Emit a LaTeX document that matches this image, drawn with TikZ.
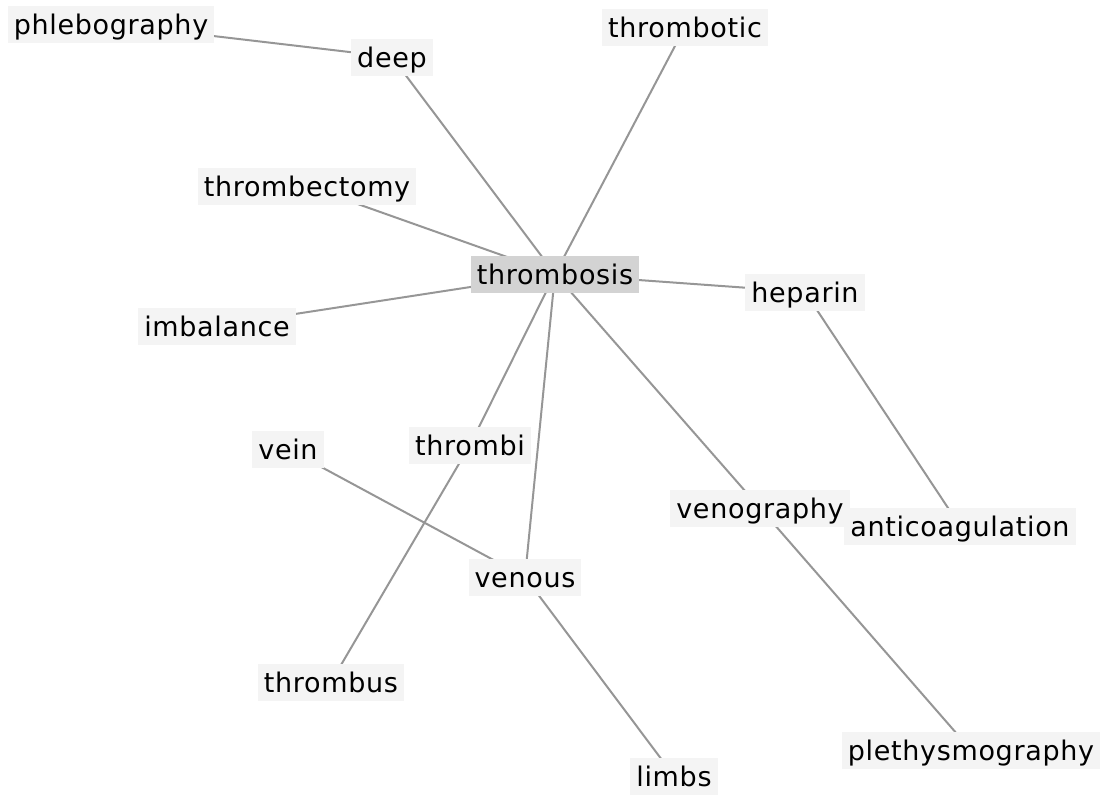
\documentclass[tikz,border=0pt]{standalone}
\usepackage{fontspec}
\setmainfont[LetterSpace=2.5]{DejaVu Sans}
\usetikzlibrary{backgrounds}
\definecolor{nodebg}{RGB}{244,244,244}
\definecolor{centerbg}{RGB}{211,211,211}
\definecolor{edgecol}{RGB}{150,150,150}
\begin{document}
\begin{tikzpicture}[x=1pt,y=-1pt,
  word/.style={fill=nodebg, inner xsep=6pt, inner ysep=0pt, minimum height=37pt,
    font=\fontsize{27}{30}\selectfont, text height=29pt, text depth=8pt, anchor=center},
  hub/.style={word, fill=centerbg},
  link/.style={draw=edgecol, line width=2pt}]
\useasboundingbox (0,0) rectangle (1106,795);
\node[word] (phlebography) at (111,24) {phlebography};
\node[word] (deep) at (392,57) {deep};
\node[word] (thrombotic) at (685,27) {thrombotic};
\node[word] (thrombectomy) at (307,186) {thrombectomy};
\node[hub] (thrombosis) at (555,274) {thrombosis};
\node[word] (heparin) at (805,292) {heparin};
\node[word] (imbalance) at (217,326) {imbalance};
\node[word] (vein) at (288,449) {vein};
\node[word] (thrombi) at (470,445) {thrombi};
\node[word] (venography) at (760,508) {venography};
\node[word] (anticoagulation) at (960,526) {anticoagulation};
\node[word] (venous) at (525,577) {venous};
\node[word] (thrombus) at (331,682) {thrombus};
\node[word] (limbs) at (674,776) {limbs};
\node[word] (plethysmography) at (971,750) {plethysmography};
\begin{scope}[on background layer]
\draw[link] (phlebography.center) -- (deep.center);
\draw[link] (deep.center) -- (thrombosis.center);
\draw[link] (thrombotic.center) -- (thrombosis.center);
\draw[link] (thrombectomy.center) -- (thrombosis.center);
\draw[link] (imbalance.center) -- (thrombosis.center);
\draw[link] (heparin.center) -- (thrombosis.center);
\draw[link] (thrombosis.center) -- (thrombi.center);
\draw[link] (thrombi.center) -- (thrombus.center);
\draw[link] (thrombosis.center) -- (venous.center);
\draw[link] (thrombosis.center) -- (venography.center);
\draw[link] (vein.center) -- (venous.center);
\draw[link] (venous.center) -- (limbs.center);
\draw[link] (heparin.center) -- (anticoagulation.center);
\draw[link] (venography.center) -- (plethysmography.center);
\end{scope}
\end{tikzpicture}
\end{document}
